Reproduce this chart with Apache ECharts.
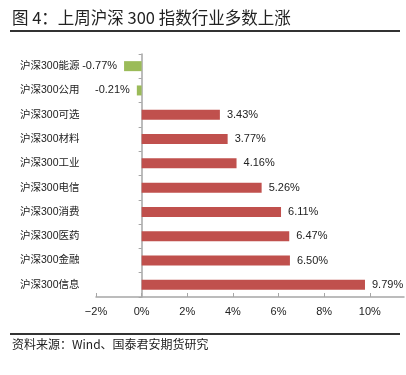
<!DOCTYPE html>
<html><head><meta charset="utf-8">
<script src="https://cdn.jsdelivr.net/npm/echarts@6/dist/echarts.min.js"></script>
<style>html,body{margin:0;padding:0;background:#fff}#c{width:406px;height:375px}</style>
</head><body><div id="c"></div>
<script>
var categories = ['沪深300能源','沪深300公用','沪深300可选','沪深300材料','沪深300工业','沪深300电信','沪深300消费','沪深300医药','沪深300金融','沪深300信息'];
var values = [-0.77, -0.21, 3.43, 3.77, 4.16, 5.26, 6.11, 6.47, 6.50, 9.79];
var xTicks = [-2, 0, 2, 4, 6, 8, 10];
var titleText = '图 4：上周沪深 300 指数行业多数上涨';
var sourceText = '资料来源：Wind、国泰君安期货研究';

var FONT = '"Liberation Sans", "Noto Sans CJK SC", sans-serif';
var chart = echarts.init(document.getElementById('c'), null, {renderer:'canvas'});
chart.setOption({
  animation: false,
  backgroundColor: '#fff',
  grid: {left: 96, right: 2, top: 54, bottom: 78, containLabel: false, outerBoundsMode: 'none'},
  xAxis: {
    type: 'value', min: -2, max: 11.5, interval: 2,
    axisLine: {show: true, lineStyle: {color: '#a6a6a6', width: 1.5}},
    axisTick: {show: true, inside: true, length: 4, lineStyle: {color: '#a6a6a6'}, customValues: xTicks},
    axisLabel: {color: '#222', fontSize: 11, fontFamily: FONT, margin: 9, customValues: xTicks,
      formatter: function(v){ return (v < 0 ? '\u2212' + (-v) : v) + '%'; }},
    splitLine: {show: false}
  },
  yAxis: {
    type: 'category', data: categories, inverse: true,
    axisLine: {show: true, onZero: true, lineStyle: {color: '#a6a6a6', width: 1.5}},
    axisTick: {show: true, length: 3, lineStyle: {color: '#a6a6a6'}},
    axisLabel: {color: '#222', fontSize: 10.5, fontFamily: FONT, align: 'left', margin: 76}
  },
  series: [{
    type: 'bar', barWidth: 10,
    data: values.map(function(v){
      return {value: v, itemStyle: {color: v < 0 ? '#9bbb59' : '#c0504d'},
        label: {position: v < 0 ? 'left' : 'right'}};
    }),
    label: {show: true, distance: 7, color: '#222', fontSize: 11, fontFamily: FONT,
      formatter: function(p){ return p.value.toFixed(2) + '%'; }}
  }],
  graphic: [
    {type: 'text', left: 12, top: 9, style: {text: titleText, font: '16.5px "Noto Sans CJK SC", sans-serif', fill: '#222'}},
    {type: 'rect', shape: {x: 10, y: 30, width: 390, height: 2}, style: {fill: '#333'}},
    {type: 'rect', shape: {x: 10, y: 333, width: 390, height: 2}, style: {fill: '#333'}},
    {type: 'text', left: 12, top: 338, style: {text: sourceText, font: '12px "Noto Sans CJK SC", sans-serif', fill: '#222'}}
  ]
});
</script></body></html>
